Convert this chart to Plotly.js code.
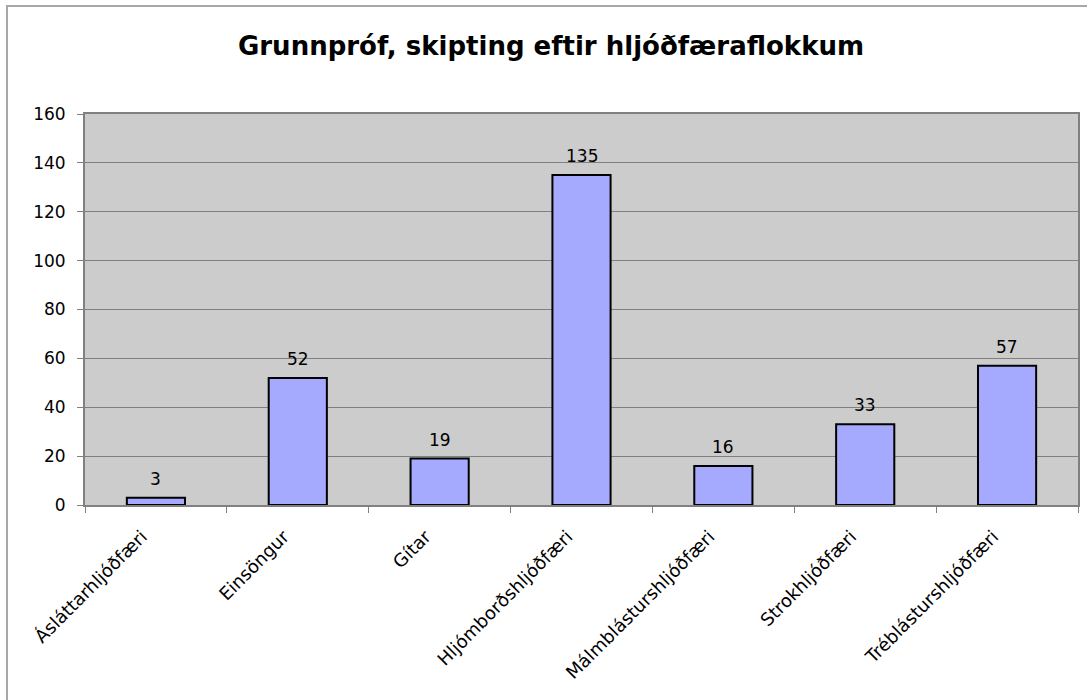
<!DOCTYPE html>
<html>
<head>
<meta charset="utf-8">
<script src="https://cdn.plot.ly/plotly-3.0.1.min.js"></script>
<style>
  body { margin: 0; background: #fff; }
  #chart { width: 1087px; height: 700px; }
</style>
</head>
<body>
<div id="chart"></div>
<script>
var categories = ["Ásláttarhljóðfæri", "Einsöngur", "Gítar", "Hljómborðshljóðfæri",
                  "Málmblásturshljóðfæri", "Strokhljóðfæri", "Tréblásturshljóðfæri"];
var counts = [3, 52, 19, 135, 16, 33, 57];
var yTicks = [0, 20, 40, 60, 80, 100, 120, 140, 160];

var font = "DejaVu Sans, Verdana, sans-serif";

// plot area in pixels: left 85, right 1078, top 114, bottom 505
var pl = 85, pr = 1078, pt = 114, pb = 505;
function px(x) { return (x - pl) / (pr - pl); }
function py(y) { return (pb - y) / (pb - pt); }

var trace = {
    type: "bar",
    x: categories,
    y: counts,
    marker: { color: "#A6AAFF", line: { color: "#000", width: 2 } },
    hoverinfo: "x+y"
};

// value labels above the bars
var labels = categories.map(function (c, i) {
    return {
        x: c, y: counts[i], xref: "x", yref: "y",
        text: String(counts[i]),
        showarrow: false, yanchor: "bottom", yshift: 7,
        font: { family: font, size: 17, color: "#000" }
    };
});

var layout = {
    width: 1087,
    height: 700,
    margin: { l: pl, r: 1087 - pr, t: pt, b: 700 - pb },
    paper_bgcolor: "#fff",
    plot_bgcolor: "#CCCCCC",
    showlegend: false,
    bargap: 0.59,
    title: {
        text: "<b>Grunnpróf, skipting eftir hljóðfæraflokkum</b>",
        font: { family: font, size: 26, color: "#000" },
        x: 551 / 1087, xref: "container", xanchor: "center",
        y: 0.935, yanchor: "middle"
    },
    xaxis: {
        type: "category",
        tickangle: -45,
        tickfont: { family: font, size: 18, color: "#000" },
        ticks: "outside",
        tickson: "boundaries",
        ticklen: 6,
        tickcolor: "#808080",
        ticklabelstandoff: 12,
        ticklabelshift: -14,
        showline: true,
        linecolor: "#808080",
        linewidth: 2,
        mirror: true,
        showgrid: false
    },
    yaxis: {
        range: [0, 160],
        tickvals: yTicks,
        tickfont: { family: font, size: 17, color: "#000" },
        ticks: "outside",
        ticklen: 6,
        tickcolor: "#808080",
        ticklabelstandoff: 8,
        showline: true,
        linecolor: "#808080",
        linewidth: 2,
        mirror: true,
        gridcolor: "#808080",
        gridwidth: 1,
        zeroline: false
    },
    annotations: labels,
    shapes: [{
        type: "rect", xref: "paper", yref: "paper",
        x0: px(7), x1: px(1200), y0: py(800), y1: py(6),
        line: { color: "#A8A8A8", width: 2 }
    }]
};

Plotly.newPlot("chart", [trace], layout, { displayModeBar: false, staticPlot: true });
</script>
</body>
</html>
